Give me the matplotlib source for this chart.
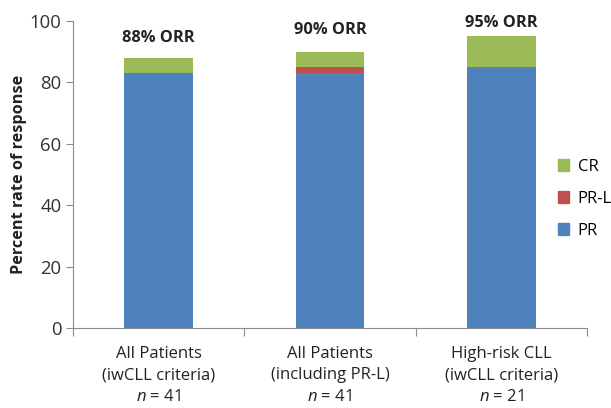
import numpy as np
import matplotlib
matplotlib.use("Agg")
import matplotlib.pyplot as plt
from matplotlib.patches import Patch

plt.rcParams["font.family"] = ["Open Sans", "DejaVu Sans"]
plt.rcParams["mathtext.fontset"] = "custom"
plt.rcParams["mathtext.rm"] = "Open Sans"
plt.rcParams["mathtext.it"] = "Open Sans:italic"

# ======== Data ========

groups = ["All Patients\n(iwCLL criteria)",
          "All Patients\n(including PR-L)",
          "High-risk CLL\n(iwCLL criteria)"]
n_patients = [41, 41, 21]
pr = [83, 83, 85]
pr_l = [0, 2, 0]
cr = [5, 5, 10]
orr = [88, 90, 95]

BLUE = "#4F81BD"
RED = "#C0504D"
GREEN = "#9BBB59"
AXIS_GRAY = "#8C8C8C"

# vertical centres (data units) of the ORR captions
ORR_LABEL_Y = [94.4, 96.9, 99.3]


def main():
    fig = plt.figure(figsize=(6.11, 4.08), dpi=100)
    ax = fig.add_axes([0.119, 0.196, 0.842, 0.753])

    x = np.arange(len(groups))
    width = 0.40
    pr_arr = np.array(pr)
    prl_arr = np.array(pr_l)
    cr_arr = np.array(cr)

    ax.bar(x, pr_arr, width, color=BLUE, zorder=2)
    ax.bar(x, prl_arr, width, bottom=pr_arr, color=RED, zorder=2)
    ax.bar(x, cr_arr, width, bottom=pr_arr + prl_arr, color=GREEN, zorder=2)

    # ORR captions above each stack
    for xi, val, ly in zip(x, orr, ORR_LABEL_Y):
        ax.text(xi, ly, f"{val}% ORR", ha="center", va="center",
                fontsize=11.8, fontweight="bold", color="#222222",
                clip_on=False)

    ax.set_xlim(-0.5, 2.5)
    ax.set_ylim(0, 100)
    ax.set_yticks(range(0, 101, 20))
    ax.tick_params(axis="y", labelsize=13.3, colors="#333333", length=5,
                   color=AXIS_GRAY, pad=3)

    # category boundary ticks on the x axis, labels centred under the bars
    ax.set_xticks([-0.5, 0.5, 1.5, 2.5])
    ax.set_xticklabels([])
    ax.tick_params(axis="x", length=6, color=AXIS_GRAY)
    ax.set_xticks(x, minor=True)
    ax.set_xticklabels([f"{g}\n$n$ = {n}" for g, n in zip(groups, n_patients)],
                       minor=True, fontsize=12, color="#222222",
                       linespacing=1.45)
    ax.tick_params(axis="x", which="minor", length=0, pad=13)

    for side in ("top", "right"):
        ax.spines[side].set_visible(False)
    for side in ("left", "bottom"):
        ax.spines[side].set_color(AXIS_GRAY)

    ax.set_ylabel("Percent rate of response", fontsize=11.7, fontweight="bold",
                  color="#222222", labelpad=2)

    handles = [Patch(color=GREEN, label="CR"),
               Patch(color=RED, label="PR-L"),
               Patch(color=BLUE, label="PR")]
    ax.legend(handles=handles, loc="center left", bbox_to_anchor=(0.93, 0.42),
              frameon=False, fontsize=12, handlelength=0.7, handleheight=0.7,
              handletextpad=0.5, labelspacing=0.95, borderaxespad=0)

    fig.savefig("out.png", dpi=100)


if __name__ == "__main__":
    main()
